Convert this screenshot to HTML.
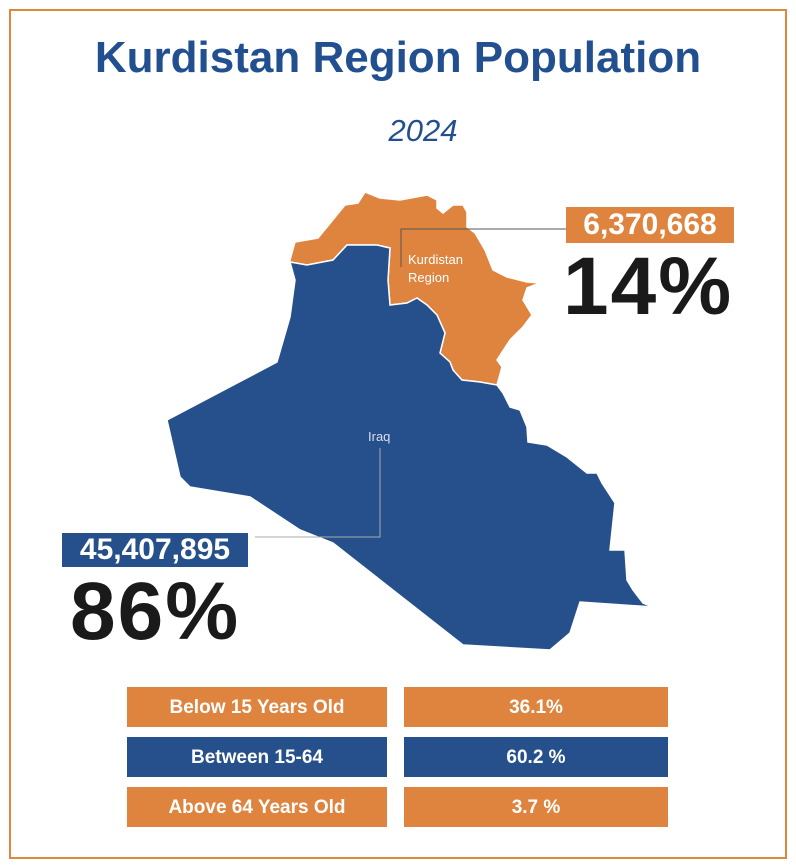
<!DOCTYPE html>
<html><head><style>
body{margin:0;width:796px;height:868px;background:#fff;position:relative;font-family:"Liberation Sans",sans-serif;overflow:hidden}
.frame{position:absolute;left:9px;top:9px;width:774px;height:846px;border:2px solid #e0873e}
.t{position:absolute;white-space:nowrap}
.cell{position:absolute;height:40px;line-height:42px;color:#fff;font-weight:bold;font-size:19px;text-align:center}
.o{background:#de843f}.b{background:#26508b}
</style></head><body>
<div class="frame"></div>
<div class="t" style="left:0;width:796px;text-align:center;top:33px;font-size:44px;font-weight:bold;color:#214f8f">Kurdistan Region Population</div>
<div class="t" style="left:373px;width:100px;text-align:center;top:113px;font-size:31px;font-style:italic;color:#214f8f">2024</div>
<svg width="796" height="868" style="position:absolute;left:0;top:0">
<polygon fill="#de843f" stroke="#fff" stroke-width="1.5" points="290,260 295,242 318,238 345,205 358,203 365,192 380,198 400,200 427,195 437,200 437,208 443,213 453,205 463,205 467,212 467,227 475,233 485,250 493,270 507,277 527,282 540,283 527,288 523,300 532,315 523,327 510,340 497,360 502,367 497,385 480,382 462,380 453,370 450,362 440,353 445,333 437,315 427,305 417,298 407,303 390,305 388,280 390,248 377,245 347,245 333,260 307,265 290,262"/>
<polygon fill="#26508b" stroke="#fff" stroke-width="1.5" points="290,262 307,265 333,260 347,245 377,245 390,248 388,280 390,305 407,303 417,298 427,305 437,315 445,333 440,353 450,362 453,370 462,380 480,382 497,385 503,393 510,407 520,410 527,427 528,442 547,445 567,457 587,473 597,473 602,483 615,503 610,550 625,550 627,580 633,590 643,603 653,607 580,602 570,633 550,650 463,645 333,543 300,530 250,497 190,487 180,477 167,420 277,362 290,317 295,280"/>
<polyline fill="none" stroke="#555" stroke-width="1" points="401,267 401,229 566,229"/>
<polyline fill="none" stroke="#aaa" stroke-width="1" points="380,448 380,537 255,537"/>
<text x="408" y="264" font-size="13" fill="#fff" font-family="Liberation Sans">Kurdistan</text>
<text x="408" y="282" font-size="13" fill="#fff" font-family="Liberation Sans">Region</text>
<text x="368" y="441" font-size="13" fill="#dde" font-family="Liberation Sans">Iraq</text>
</svg>
<div class="t o" style="left:566px;top:207px;width:168px;height:36px;line-height:36px;text-align:center;color:#fff;font-weight:bold;font-size:30px">6,370,668</div>
<div class="t" style="left:563px;top:240px;font-size:82px;font-weight:bold;color:#1a1a1a;letter-spacing:2px">14%</div>
<div class="t b" style="left:62px;top:533px;width:186px;height:34px;line-height:34px;text-align:center;color:#fff;font-weight:bold;font-size:30px">45,407,895</div>
<div class="t" style="left:70px;top:565px;font-size:82px;font-weight:bold;color:#1a1a1a;letter-spacing:2px">86%</div>
<div class="cell o" style="left:127px;top:687px;width:260px">Below 15 Years Old</div>
<div class="cell o" style="left:404px;top:687px;width:264px">36.1%</div>
<div class="cell b" style="left:127px;top:737px;width:260px">Between 15-64</div>
<div class="cell b" style="left:404px;top:737px;width:264px">60.2 %</div>
<div class="cell o" style="left:127px;top:787px;width:260px">Above 64 Years Old</div>
<div class="cell o" style="left:404px;top:787px;width:264px">3.7 %</div>
</body></html>
